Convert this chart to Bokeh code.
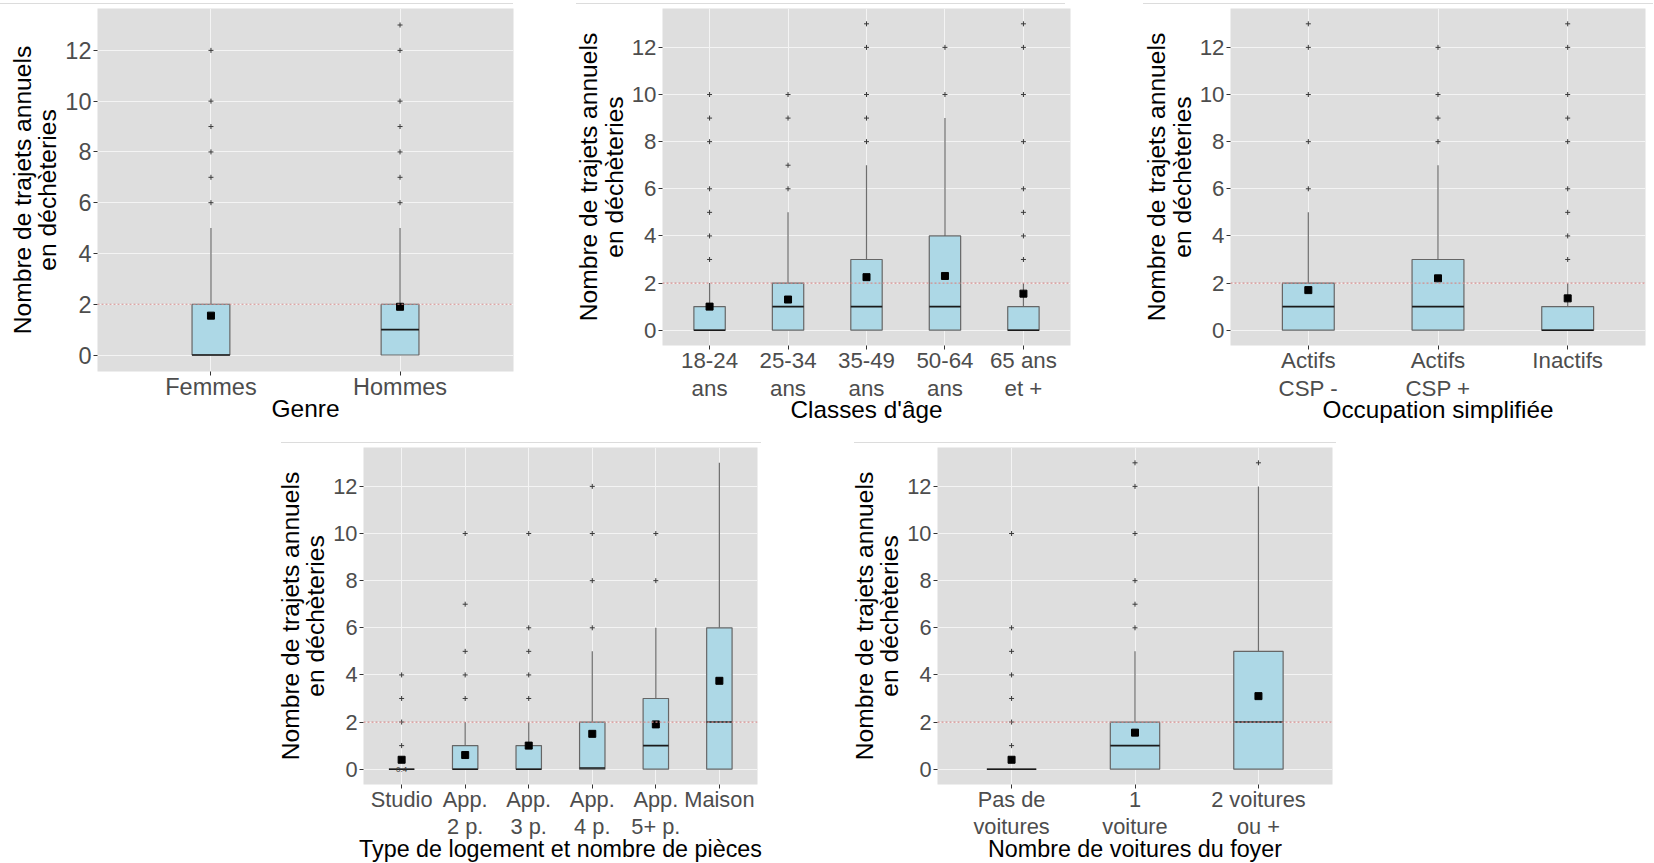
from bokeh.plotting import figure
from bokeh.models import Range1d, FixedTicker, Span, Spacer, ColumnDataSource
from bokeh.layouts import row, column
from bokeh.embed import file_html
from bokeh.resources import INLINE

Y_TITLE = "Nombre de trajets annuels\nen déchèteries"
REF_LINE = 2

# ---- Panel 1 : Genre
genre_cats = ["Femmes", "Hommes"]
genre_q1 = [0, 0]
genre_med = [0, 1]
genre_q3 = [2, 2]
genre_whi = [5, 5]
genre_mean = [1.55, 1.9]
genre_out = [[6, 7, 8, 9, 10, 12], [6, 7, 8, 9, 10, 12, 13]]

# ---- Panel 2 : Classes d'âge
age_cats = ["18-24\nans", "25-34\nans", "35-49\nans", "50-64\nans", "65 ans\net +"]
age_q1 = [0, 0, 0, 0, 0]
age_med = [0, 1, 1, 1, 0]
age_q3 = [1, 2, 3, 4, 1]
age_whi = [2, 5, 7, 9, 2]
age_mean = [1.0, 1.3, 2.25, 2.3, 1.55]
age_out = [[3, 4, 5, 6, 8, 9, 10], [6, 7, 9, 10], [8, 9, 10, 12, 13], [10, 12],
           [3, 4, 5, 6, 8, 10, 12, 13]]

# ---- Panel 3 : Occupation simplifiée
occ_cats = ["Actifs\nCSP -", "Actifs\nCSP +", "Inactifs"]
occ_q1 = [0, 0, 0]
occ_med = [1, 1, 0]
occ_q3 = [2, 3, 1]
occ_whi = [5, 7, 2]
occ_mean = [1.7, 2.2, 1.35]
occ_out = [[6, 8, 10, 12, 13], [8, 9, 10, 12], [3, 4, 5, 6, 8, 9, 10, 12, 13]]

# ---- Panel 4 : Type de logement
log_cats = ["Studio", "App.\n2 p.", "App.\n3 p.", "App.\n4 p.", "App.\n5+ p.", "Maison"]
log_q1 = [0, 0, 0, 0, 0, 0]
log_med = [0, 0, 0, 0.05, 1, 2]
log_q3 = [0, 1, 1, 2, 3, 6]
log_whi = [0, 2, 2, 5, 6, 13]
log_mean = [0.4, 0.6, 1.0, 1.5, 1.9, 3.75]
log_out = [[1, 2, 3, 4], [3, 4, 5, 7, 10], [3, 4, 5, 6, 10], [6, 8, 10, 12], [8, 10], []]
log_note = ["0.4"]

# ---- Panel 5 : Nombre de voitures
voit_cats = ["Pas de\nvoitures", "1\nvoiture", "2 voitures\nou +"]
voit_q1 = [0, 0, 0]
voit_med = [0, 1, 2]
voit_q3 = [0, 2, 5]
voit_whi = [0, 5, 12]
voit_mean = [0.4, 1.55, 3.1]
voit_out = [[1, 2, 3, 4, 5, 6, 10], [6, 7, 8, 10, 12, 13], [13]]

Y_TICKS = [0, 2, 4, 6, 8, 10, 12]

FONT = "Liberation Sans"
PANEL_BG = "#DEDEDE"
BOX_FILL = "#ADD8E6"
SEP = "#DCDCDC"


def make_panel(cats, q1, med, q3, whi, mean, outs, xlabel, box_w,
               fw, fh, bl, br, bb, tick_fs, title_fs, line_h, title_off,
               note=None):
    n = len(cats)
    xs = list(range(1, n + 1))
    p = figure(frame_width=fw, frame_height=fh, output_backend="svg",
               toolbar_location=None,
               x_range=Range1d(0.4, n + 0.6), y_range=Range1d(-0.65, 13.65))
    p.min_border = 0
    p.min_border_left = bl
    p.min_border_right = br
    p.min_border_bottom = bb
    p.min_border_top = 0
    p.background_fill_color = PANEL_BG
    p.border_fill_color = "white"
    p.outline_line_color = None

    p.xaxis.ticker = FixedTicker(ticks=xs)
    p.xaxis.major_label_overrides = {x: c for x, c in zip(xs, cats)}
    p.yaxis.ticker = FixedTicker(ticks=Y_TICKS)
    for ax in (p.xaxis, p.yaxis):
        ax.axis_line_color = None
        ax.major_tick_line_color = "#333333"
        ax.major_tick_in = 0
        ax.major_tick_out = 4
        ax.minor_tick_line_color = None
        ax.major_label_text_font = FONT
        ax.major_label_text_font_size = tick_fs
        ax.major_label_text_color = "#4D4D4D"
        ax.axis_label_text_font = FONT
        ax.axis_label_text_color = "black"
        ax.axis_label_text_font_style = "normal"
    p.xaxis.axis_label_text_font_size = title_fs
    p.yaxis.axis_label_text_font_size = "24.6px"
    p.xaxis.axis_label = xlabel
    p.yaxis.axis_label = Y_TITLE
    p.xaxis.major_label_standoff = -2
    p.xaxis.axis_label_standoff = title_off
    p.yaxis.major_label_standoff = 2
    p.yaxis.axis_label_standoff = 1
    p.xaxis.major_label_text_line_height = line_h
    p.yaxis.axis_label_text_line_height = 0.95

    p.xgrid.ticker = FixedTicker(ticks=xs)
    p.ygrid.ticker = FixedTicker(ticks=Y_TICKS)
    p.grid.grid_line_color = "#F4F4F4"
    p.grid.grid_line_width = 1

    src = ColumnDataSource(dict(x=xs, q1=q1, med=med, q3=q3, whi=whi, mean=mean))
    p.segment(x0="x", x1="x", y0="q3", y1="whi", source=src,
              line_color="#6E6E6E", line_width=1.2)
    p.vbar(x="x", width=box_w, bottom="q1", top="q3", source=src,
           fill_color=BOX_FILL, line_color="#666666", line_width=1.2)
    p.vbar(x="x", width=box_w, bottom="med", top="med", source=src,
           fill_color=None, line_color="#1A1A1A", line_width=1.6)

    ox, oy = [], []
    for x, vals in zip(xs, outs):
        for v in vals:
            ox.append(x)
            oy.append(v)
    p.scatter(ox, oy, marker="cross", size=5, line_color="#3A3A3A", line_width=1)

    p.add_layout(Span(location=REF_LINE, dimension="width", line_color="#D48C8C",
                      line_dash="2 2", line_width=1.2))

    p.scatter(x="x", y="mean", source=src, marker="square", size=7,
              fill_color="black", line_color="black")

    if note:
        p.text(x=[xs[0]], y=[0], text=note, text_font_size="8px",
               text_color="#333333", text_align="center", text_baseline="middle")
    return p


def sep(w):
    return Spacer(width=w, height=1, styles={"background-color": SEP})


def gap(w, h=1):
    return Spacer(width=w, height=h)


p1 = make_panel(genre_cats, genre_q1, genre_med, genre_q3, genre_whi, genre_mean,
                genre_out, "Genre", 0.2, 416, 363, 97, 57, 71,
                "23.5px", "24.5px", 1.02, -8)
p2 = make_panel(age_cats, age_q1, age_med, age_q3, age_whi, age_mean,
                age_out, "Classes d'âge", 0.4, 408, 337, 92, 60, 97,
                "22.3px", "24.3px", 1.13, -8)
p3 = make_panel(occ_cats, occ_q1, occ_med, occ_q3, occ_whi, occ_mean,
                occ_out, "Occupation simplifiée", 0.4, 415, 337, 100, 8, 97,
                "22.3px", "24.3px", 1.13, -8)
p4 = make_panel(log_cats, log_q1, log_med, log_q3, log_whi, log_mean,
                log_out, "Type de logement et nombre de pièces", 0.4, 394, 337,
                90, 88, 70, "21.8px", "23.3px", 1.1, -6, note=log_note)
p5 = make_panel(voit_cats, voit_q1, voit_med, voit_q3, voit_whi, voit_mean,
                voit_out, "Nombre de voitures du foyer", 0.4, 395, 337, 92, 10, 70,
                "21.8px", "23.3px", 1.1, -6)

sep_top = row(sep(513), gap(63), sep(489), gap(78), sep(510))
sep_bot = row(gap(281), sep(480), gap(93), sep(482))

layout = column(
    gap(10, 3),
    sep_top,
    gap(10, 4),
    row(p1, p2, p3),
    sep_bot,
    gap(10, 4),
    row(gap(273, 10), p4, p5),
)

open("out.html", "w").write(file_html(layout, INLINE))
